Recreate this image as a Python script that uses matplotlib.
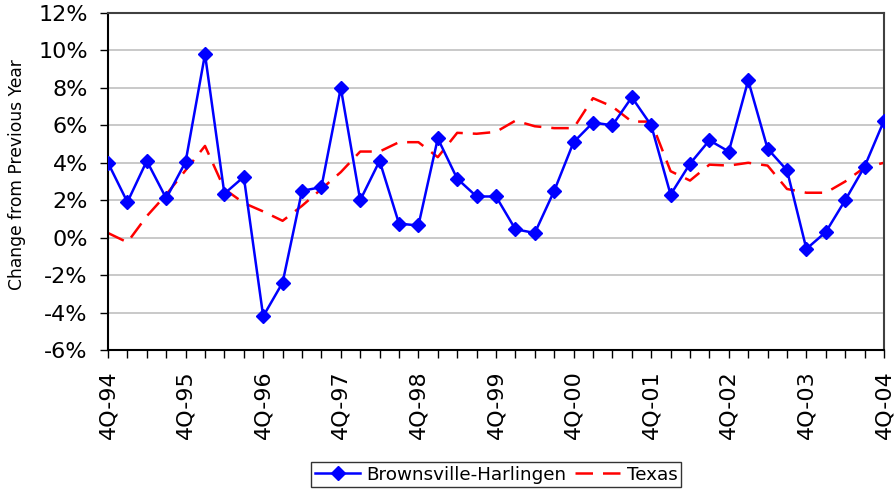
import matplotlib
matplotlib.use("Agg")
import matplotlib.pyplot as plt
from matplotlib.ticker import FixedLocator, FuncFormatter

years = ["94", "95", "96", "97", "98", "99", "00", "01", "02", "03", "04"]
tick_labels = ["4Q-" + y for y in years]

brownsville = [4.0, 1.9, 4.1, 2.1, 4.05, 9.8, 2.35, 3.25, -4.2, -2.4,
               2.5, 2.7, 8.0, 2.0, 4.1, 0.75, 0.65, 5.3, 3.15, 2.2,
               2.2, 0.45, 0.25, 2.5, 5.1, 6.15, 6.0, 7.5, 6.0, 2.3,
               3.95, 5.2, 4.6, 8.4, 4.75, 3.6, -0.6, 0.3, 2.0, 3.8, 6.25]
texas = [0.25, -0.25, 1.15, 2.3, 3.6, 4.9, 2.6, 1.85, 1.4, 0.9,
         1.7, 2.6, 3.5, 4.6, 4.6, 5.1, 5.1, 4.3, 5.6, 5.55,
         5.65, 6.25, 5.95, 5.85, 5.85, 7.45, 7.0, 6.2, 6.2, 3.55,
         3.05, 3.9, 3.85, 4.0, 3.85, 2.6, 2.4, 2.4, 3.0, 3.75, 4.0]

x = list(range(len(brownsville)))

fig = plt.figure(figsize=(8.94, 4.90), dpi=100)
ax = fig.add_axes([108/894, 1-350/490, (884-108)/894, (350-13)/490])

ax.plot(x, brownsville, color="#0000FF", lw=1.8, marker="D", markersize=7,
        label="Brownsville-Harlingen", zorder=3)
ax.plot(x, texas, color="#FF0000", lw=1.8, dashes=(7, 4),
        label="Texas", zorder=2)

ax.set_xlim(0, len(x) - 1)
ax.set_ylim(-6, 12)
ax.set_yticks(range(-6, 13, 2))
ax.yaxis.set_major_formatter(FuncFormatter(lambda v, p: f"{int(v)}%"))
ax.yaxis.grid(True, color="#c0c0c0", lw=1.2)
ax.set_axisbelow(True)

ax.xaxis.set_major_locator(FixedLocator(list(range(0, len(x), 4))))
ax.set_xticklabels(tick_labels, rotation=90)
ax.xaxis.set_minor_locator(FixedLocator(x))
ax.tick_params(axis="x", which="both", direction="out", length=5.5, width=1,
               labelsize=16, pad=9)
ax.tick_params(axis="y", direction="out", length=5.5, width=1, labelsize=16,
               pad=9)

for s in ["left", "bottom"]:
    ax.spines[s].set_color("black")
    ax.spines[s].set_linewidth(1.5)
for s in ["top", "right"]:
    ax.spines[s].set_color("#404040")
    ax.spines[s].set_linewidth(1.5)

fig.text(17/894, 1-175/490, "Change from Previous Year", rotation=90,
         fontsize=12.3, ha="center", va="center")

leg = fig.legend(loc="center", bbox_to_anchor=(496/894, 1-474.5/490),
                 ncol=2, frameon=True, fancybox=False,
                 handlelength=2.5, columnspacing=0.5, handletextpad=0.3,
                 borderpad=0.2, borderaxespad=0,
                 prop={"family": "DejaVu Sans", "size": 13.2})
leg.get_frame().set_edgecolor("black")
leg.get_frame().set_linewidth(1.0)

fig.savefig("out.png", dpi=100)
